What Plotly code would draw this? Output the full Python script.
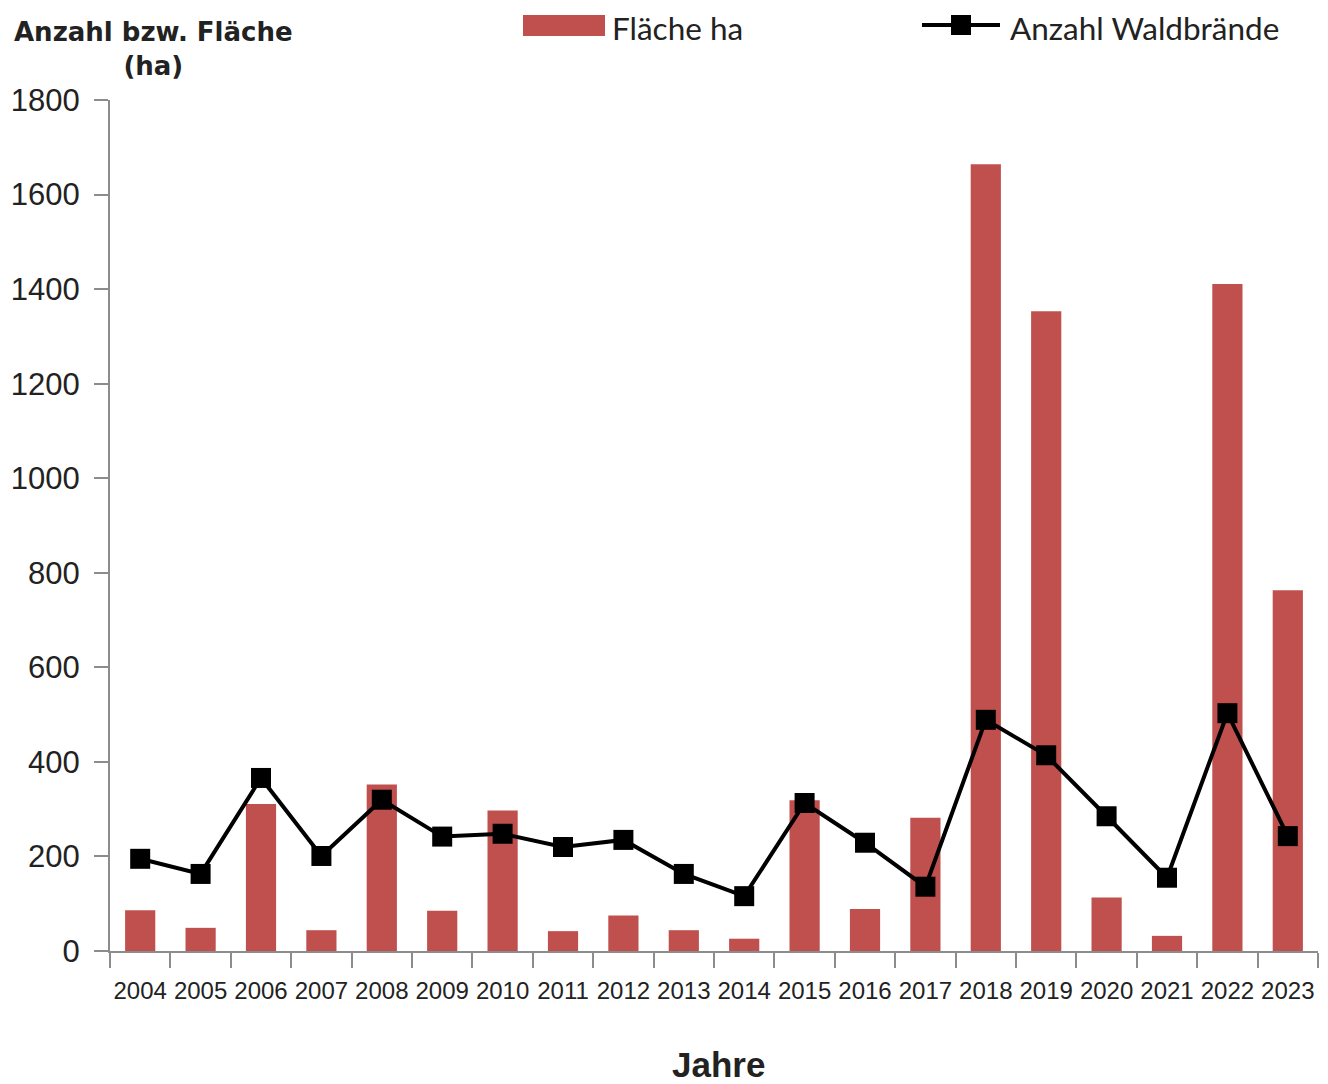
import plotly.graph_objects as go

years = [str(y) for y in range(2004, 2024)]
flaeche_ha = [86, 49, 311, 44, 352, 85, 297, 42, 75, 44,
              26, 319, 89, 282, 1664, 1353, 113, 32, 1411, 763]
anzahl = [195, 163, 366, 201, 320, 242, 248, 220, 235, 163,
          116, 313, 229, 136, 489, 414, 285, 155, 503, 243]
y_ticks = list(range(0, 1801, 200))

BAR_COLOR = "#C0504D"
AXIS_COLOR = "#8C8C8C"

fig = go.Figure()
fig.add_trace(go.Bar(x=years, y=flaeche_ha, name="Fläche ha",
                     marker=dict(color=BAR_COLOR, line=dict(width=0)),
                     showlegend=False))
fig.add_trace(go.Scatter(x=years, y=anzahl, name="Anzahl Waldbrände",
                         mode="lines+markers",
                         line=dict(color="black", width=4),
                         marker=dict(symbol="square", size=20, color="black"),
                         showlegend=False))

# page offset caused by the default body margin (8 px)
OFF = 8
W, H = 1328 - OFF, 1084 - OFF
L, R, T, B = 110 - OFF, 10, 100 - OFF, 1084 - 951
pw, ph = W - L - R, H - T - B

def px(xp):
    return (xp - OFF - L) / pw

def py(yp):
    return (H - B - (yp - OFF)) / ph

shapes = [
    dict(type="rect", xref="paper", yref="paper",
         x0=px(523), x1=px(605), y0=py(36), y1=py(15),
         fillcolor=BAR_COLOR, line=dict(width=0)),
    dict(type="line", xref="paper", yref="paper",
         x0=px(922), x1=px(1000), y0=py(25), y1=py(25),
         line=dict(color="black", width=4)),
    dict(type="rect", xref="paper", yref="paper",
         x0=px(951), x1=px(971), y0=py(35), y1=py(15),
         fillcolor="black", line=dict(width=0)),
]

annotations = [
    dict(text="Fläche ha", xref="paper", yref="paper", x=px(611), y=py(28),
         xanchor="left", yanchor="middle", showarrow=False, borderpad=0,
         font=dict(family="Lato", size=31.5, color="#222")),
    dict(text="Anzahl Waldbrände", xref="paper", yref="paper", x=px(1009), y=py(28),
         xanchor="left", yanchor="middle", showarrow=False, borderpad=0,
         font=dict(family="Lato", size=31.5, color="#222")),
    dict(text="<b>Anzahl bzw. Fläche</b><br><b>(ha)</b>", xref="paper", yref="paper",
         x=px(153), y=py(49), xanchor="center", yanchor="middle", showarrow=False,
         align="center", font=dict(family="DejaVu Sans", size=26, color="#222")),
    dict(text="<b>Jahre</b>", xref="paper", yref="paper", x=px(718), y=py(1064),
         xanchor="center", yanchor="middle", showarrow=False,
         font=dict(family="Liberation Sans", size=35, color="#222")),
]

fig.update_layout(
    width=W, height=H,
    margin=dict(l=L, r=R, t=T, b=B, pad=0),
    paper_bgcolor="white", plot_bgcolor="white",
    bargap=0.5,
    shapes=shapes, annotations=annotations,
    font=dict(family="Liberation Sans", color="#222"),
    xaxis=dict(type="category", range=[-0.5, 19.5], automargin=False,
               showgrid=False, showline=True, linecolor=AXIS_COLOR,
               linewidth=2, ticks="outside", tickson="boundaries", ticklen=15,
               tickwidth=2, tickcolor=AXIS_COLOR, tickangle=0,
               ticklabelstandoff=17,
               tickfont=dict(family="Liberation Sans", size=24, color="#222")),
    yaxis=dict(range=[0, 1800], tickvals=y_ticks, automargin=False,
               showgrid=False, zeroline=False,
               showline=True, linecolor=AXIS_COLOR, linewidth=2,
               ticks="outside", ticklen=14, tickwidth=2, tickcolor=AXIS_COLOR,
               ticklabelstandoff=8,
               tickfont=dict(family="Liberation Sans", size=31, color="#222")),
)

fig.write_html("out.html")
